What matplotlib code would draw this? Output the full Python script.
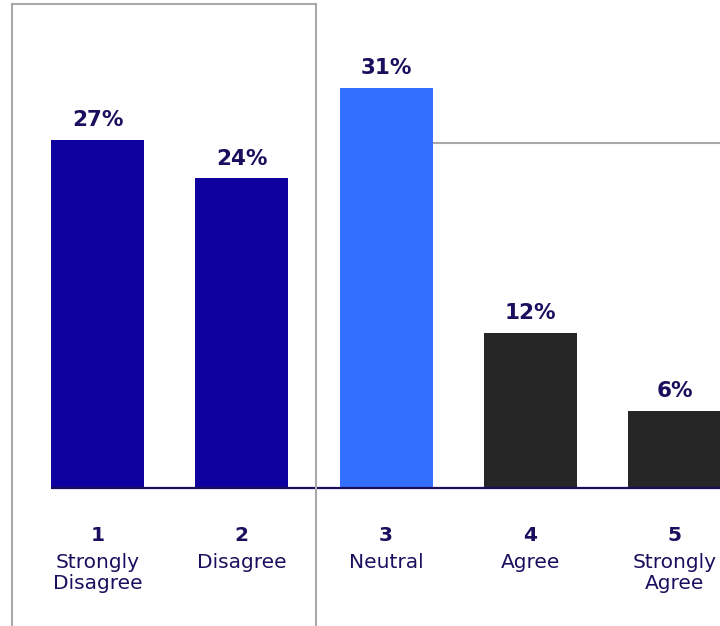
import matplotlib
matplotlib.use("Agg")
import matplotlib.pyplot as plt
from matplotlib.lines import Line2D

# Survey response distribution
scores = ["1", "2", "3", "4", "5"]
answers = ["Strongly\nDisagree", "Disagree", "Neutral", "Agree", "Strongly\nAgree"]
shares = [27, 24, 31, 12, 6]
colors = ["#0f00a0", "#0f00a0", "#3370ff", "#262626", "#262626"]

text_color = "#1a0f5e"
frame_color = "#a9a9a9"

plt.rcParams["font.family"] = ["DejaVu Sans"]

fig = plt.figure(figsize=(7.2, 6.26), dpi=100)
ax = fig.add_axes([0, 0, 1, 1])

x = list(range(len(shares)))
bars = ax.bar(x, shares, width=0.645, color=colors, zorder=2)

ax.set_xlim(-0.676, 4.315)
ax.set_ylim(-10.7, 37.83)
ax.axis("off")

# baseline running from the first bar to the right edge
ax.plot([-0.3225, 4.315], [0, 0], color=text_color, lw=1.6, zorder=3,
        solid_capstyle="butt")

# value labels
for xi, v in zip(x, shares):
    ax.annotate(f"{v}%", (xi, v), xytext=(0, 7), textcoords="offset points",
                ha="center", va="bottom", fontsize=15.5, fontweight="bold",
                color=text_color)

# category labels under the baseline
for xi, s, a in zip(x, scores, answers):
    ax.annotate(s, (xi, 0), xytext=(0, -34.5), textcoords="offset points",
                ha="center", va="center", fontsize=14.5, fontweight="bold",
                color=text_color)
    ax.annotate(a, (xi, 0), xytext=(0, -46.5), textcoords="offset points",
                ha="center", va="top", fontsize=14.5, color=text_color,
                linespacing=1.15)

# grey frame around the disagree group and the neutral guide line
W, H = 720.0, 626.0
def fx(px):
    return px / W
def fy(py):
    return 1 - py / H

frame = [
    ([fx(12), fx(12)], [fy(626), fy(4)]),
    ([fx(12), fx(316)], [fy(4), fy(4)]),
    ([fx(316), fx(316)], [fy(4), fy(626)]),
    ([fx(434), fx(720)], [fy(143), fy(143)]),
]
for xs, ys in frame:
    fig.add_artist(Line2D(xs, ys, transform=fig.transFigure, color=frame_color,
                          lw=1.5, zorder=1))

fig.savefig("out.png", dpi=100)
